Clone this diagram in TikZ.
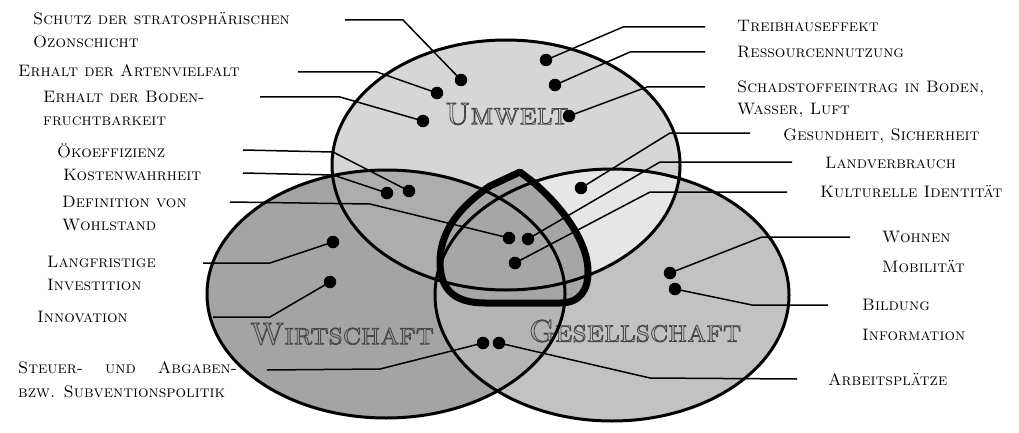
\documentclass[tikz,border=0pt]{standalone}
\usepackage{fontspec}
\definecolor{ucol}{HTML}{D6D6D6}
\definecolor{wcol}{HTML}{A4A4A4}
\definecolor{gcol}{HTML}{C2C2C2}
\definecolor{uwcol}{HTML}{ADADAD}
\definecolor{ugcol}{HTML}{E6E6E6}
\definecolor{wgcol}{HTML}{B4B4B4}
\definecolor{uwgcol}{HTML}{A6A6A6}
\definecolor{bigtext}{HTML}{484848}
\newcommand{\outlinetext}[1]{\special{x:gsave}\special{pdf:literal 1 Tr 0.9 w}#1\special{x:grestore}}
\begin{document}
\begin{tikzpicture}[x=1pt,y=-1pt,
  dot/.style={circle,fill=black,minimum size=12.5pt,inner sep=0pt},
  leader/.style={line width=1.5pt,line join=round},
  ring/.style={line width=3pt},
  lab/.style={anchor=base west,inner sep=0pt,align=left,
    font=\fontsize{16.6}{22.5}\selectfont\scshape},
  big/.style={inner sep=0pt,text=bigtext,font=\fontsize{31}{33}\selectfont\scshape}]
\useasboundingbox (0,0) rectangle (1019,433);
\def\Uell{(506,165) ellipse [x radius=174, y radius=125]}
\def\Well{(386,294) ellipse [x radius=179, y radius=124]}
\def\Gell{(612,295) ellipse [x radius=177, y radius=126]}
% region fills
\fill[wcol] \Well;
\fill[gcol] \Gell;
\fill[ucol] \Uell;
\begin{scope}\clip \Uell; \fill[uwcol] \Well;\end{scope}
\begin{scope}\clip \Uell; \fill[ugcol] \Gell;\end{scope}
\begin{scope}\clip \Well; \fill[wgcol] \Gell;\end{scope}
% big labels
\node[big] (umwelt) at (507,114) {\outlinetext{Umwelt}};
\node[big] (wirtschaft) at (342,334) {\outlinetext{Wirtschaft}};
\node[big] (gesellschaft) at (635,331) {\outlinetext{Gesellschaft}};
% core shape
\path[fill=uwgcol] (520,172) -- (490,186) .. controls (455,210) and (440,235) .. (440,262)
  .. controls (440,290) and (455,303) .. (485,303) -- (560,303)
  .. controls (580,303) and (588,290) .. (588,272)
  .. controls (588,240) and (560,205) .. (533,182) -- cycle;
% outlines
\draw[ring] \Uell;
\draw[ring] \Well;
\draw[ring] \Gell;
\draw[line width=7pt,line join=round] (520,172) -- (490,186) .. controls (455,210) and (440,235) .. (440,262)
  .. controls (440,290) and (455,303) .. (485,303) -- (560,303)
  .. controls (580,303) and (588,290) .. (588,272)
  .. controls (588,240) and (560,205) .. (533,182) -- cycle;
% dots
\node[dot] (d1) at (461,80) {};
\node[dot] (d2) at (437,93) {};
\node[dot] (d3) at (423,121) {};
\node[dot] (d4) at (409,191) {};
\node[dot] (d5) at (387,193) {};
\node[dot] (d6) at (509,238) {};
\node[dot] (d7) at (546,60) {};
\node[dot] (d8) at (555,85) {};
\node[dot] (d9) at (569,116) {};
\node[dot] (d10) at (581,188) {};
\node[dot] (d11) at (528,239) {};
\node[dot] (d12) at (515,263) {};
\node[dot] (d13) at (670,273) {};
\node[dot] (d14) at (675,289) {};
\node[dot] (d15) at (499,343) {};
\node[dot] (d16) at (483,343) {};
\node[dot] (d17) at (333,242) {};
\node[dot] (d18) at (330,282) {};
% leader ends
\coordinate (e1) at (345,20);
\coordinate (e2) at (298,72);
\coordinate (e3) at (260,97);
\coordinate (e4) at (243,150);
\coordinate (e5) at (243,173);
\coordinate (e6) at (230,202);
\coordinate (e7) at (705,27);
\coordinate (e8) at (705,52);
\coordinate (e9) at (705,87);
\coordinate (e10) at (750,133);
\coordinate (e11) at (792,162);
\coordinate (e12) at (787,192);
\coordinate (e13) at (850,237);
\coordinate (e14) at (828,305);
\coordinate (e15) at (797,379);
\coordinate (e16) at (267,370);
\coordinate (e17) at (203,263);
\coordinate (e18) at (213,317);
% leaders
\draw[leader] (d1.center) -- (403,20) -- (e1);
\draw[leader] (d2.center) -- (377,72) -- (e2);
\draw[leader] (d3.center) -- (340,97) -- (e3);
\draw[leader] (d4.center) -- (333,152) -- (e4);
\draw[leader] (d5.center) -- (333,175) -- (e5);
\draw[leader] (d6.center) -- (370,204) -- (e6);
\draw[leader] (d7.center) -- (623,27) -- (e7);
\draw[leader] (d8.center) -- (630,52) -- (e8);
\draw[leader] (d9.center) -- (647,87) -- (e9);
\draw[leader] (d10.center) -- (670,133) -- (e10);
\draw[leader] (d11.center) -- (660,162) -- (e11);
\draw[leader] (d12.center) -- (650,192) -- (e12);
\draw[leader] (d13.center) -- (762,237) -- (e13);
\draw[leader] (d14.center) -- (752,305) -- (e14);
\draw[leader] (d15.center) -- (650,378) -- (e15);
\draw[leader] (d16.center) -- (380,369) -- (e16);
\draw[leader] (d17.center) -- (270,263) -- (e17);
\draw[leader] (d18.center) -- (270,317) -- (e18);
% labels (base = baseline of the last line)
\node[lab] (l1) at (33,47.5) {Schutz der stratosphärischen\\Ozonschicht};
\node[lab] (l2) at (18,77) {Erhalt der Artenvielfalt};
\node[lab] (l3) at (43,125) {Erhalt der Boden-\\fruchtbarkeit};
\node[lab] (l4) at (57,157) {Ökoeffizienz};
\node[lab] (l5) at (63,180) {Kostenwahrheit};
\node[lab] (l6) at (62,230) {Definition von\\Wohlstand};
\node[lab] (l7) at (47,290) {Langfristige\\Investition};
\node[lab] (l8) at (37,322) {Innovation};
\node[lab,font=\fontsize{16.6}{24}\selectfont\scshape] (l9) at (18,397) {\makebox[219pt][s]{Steuer- und Abgaben-}\\bzw. Subventionspolitik};
\node[lab] (l10) at (737,32) {Treibhauseffekt};
\node[lab] (l11) at (737,58) {Ressourcennutzung};
\node[lab] (l12) at (737,115) {Schadstoffeintrag in Boden,\\Wasser, Luft};
\node[lab] (l13) at (783,140) {Gesundheit, Sicherheit};
\node[lab] (l14) at (825,168) {Landverbrauch};
\node[lab] (l15) at (820,197) {Kulturelle Identität};
\node[lab,font=\fontsize{16.6}{30}\selectfont\scshape] (l16) at (882,272) {Wohnen\\Mobilität};
\node[lab,font=\fontsize{16.6}{30}\selectfont\scshape] (l17) at (862,340) {Bildung\\Information};
\node[lab] (l18) at (828,385) {Arbeitsplätze};
\end{tikzpicture}
\end{document}
